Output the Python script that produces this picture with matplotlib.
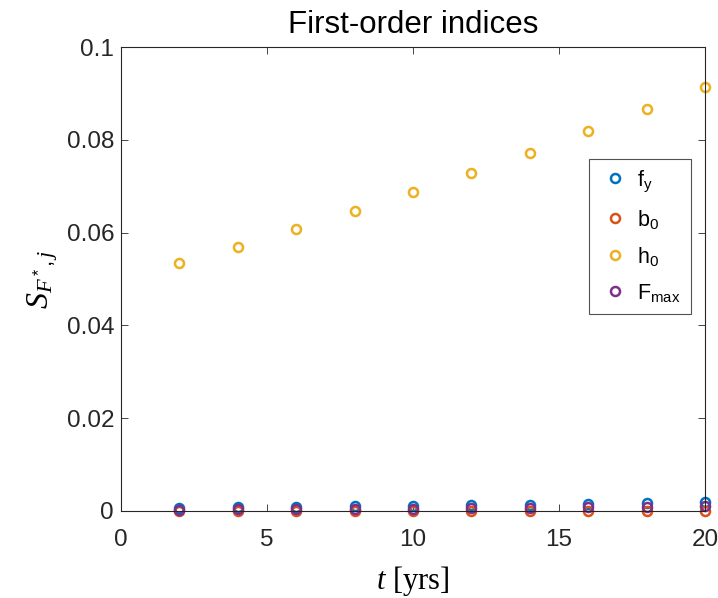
import numpy as np
import matplotlib
matplotlib.use("Agg")
import matplotlib.pyplot as plt

plt.rcParams['font.family'] = ['Liberation Sans', 'DejaVu Sans']
plt.rcParams['mathtext.fontset'] = 'custom'
plt.rcParams['mathtext.rm'] = 'Liberation Sans'
plt.rcParams['mathtext.it'] = 'Liberation Serif:italic'
plt.rcParams['mathtext.bf'] = 'Liberation Sans:bold'

# time steps (yrs)
t = [2, 4, 6, 8, 10, 12, 14, 16, 18, 20]

# first-order indices per parameter
S_fy = [0.0007, 0.0008, 0.0009, 0.0010, 0.0011, 0.0012, 0.0013, 0.0015, 0.0017, 0.0020]
S_b0 = [0.00005, 0.00005, 0.00006, 0.00006, 0.00007, 0.00007, 0.00008, 0.00008, 0.00009, 0.0001]
S_h0 = [0.0534, 0.0569, 0.0608, 0.0647, 0.0688, 0.0728, 0.0772, 0.0819, 0.0866, 0.0914]
S_Fmax = [0.0003, 0.0004, 0.0004, 0.0005, 0.0005, 0.0006, 0.0007, 0.0008, 0.0009, 0.0010]

labels = ['f$_\\mathrm{y}$', 'b$_\\mathrm{0}$', 'h$_\\mathrm{0}$', 'F$_\\mathrm{max}$']
colors = ['#0072BD', '#D95319', '#EDB120', '#7E2F8E']

fig = plt.figure(figsize=(7.18, 5.98), dpi=100)
ax = fig.add_axes([0.1685, 0.1455, 0.8135, 0.7759])

for s, lab, c in zip([S_fy, S_b0, S_h0, S_Fmax], labels, colors):
    ax.plot(t, s, 'o', mfc='none', mec=c, mew=1.8, ms=6.5, label=lab, clip_on=False)

ax.set_xlim(0, 20)
ax.set_ylim(0, 0.1)
ax.set_xticks([0, 5, 10, 15, 20])
ax.set_yticks([0, 0.02, 0.04, 0.06, 0.08, 0.1])
ax.set_yticklabels(['0', '0.02', '0.04', '0.06', '0.08', '0.1'])
ax.tick_params(direction='in', top=True, right=True, labelsize=17.5, length=5, width=0.6,
               colors='#262626')
ax.tick_params(axis='x', pad=13)
ax.tick_params(axis='y', pad=5)
for sp in ax.spines.values():
    sp.set_linewidth(0.8)
    sp.set_color('#262626')

ax.set_title('First-order indices', fontsize=22.5, pad=10)
ax.set_xlabel('$t$ [yrs]', fontsize=22, fontfamily='Liberation Serif', labelpad=9)
ax.set_ylabel('$S_{F^*,j}$', fontsize=23, labelpad=5)

leg = ax.legend(loc='upper left', bbox_to_anchor=(0.801, 0.759), borderaxespad=0,
                fontsize=15.5, frameon=True, fancybox=False, edgecolor='#262626',
                handletextpad=0.3, borderpad=0.45, labelspacing=0.65, handlelength=1.5)
leg.get_frame().set_linewidth(0.8)

fig.savefig('out.png', dpi=100)
